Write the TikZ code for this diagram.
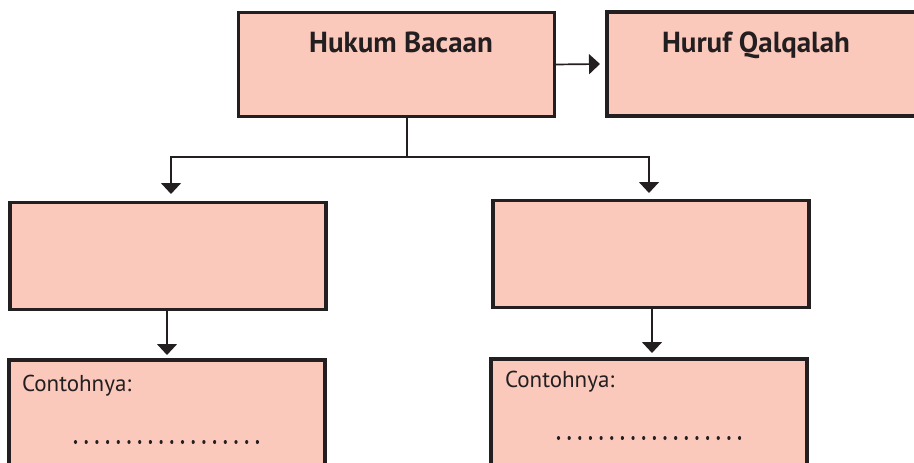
\documentclass[tikz,border=0pt]{standalone}
\usepackage{fontspec}
\setmainfont{PT Sans}
\usetikzlibrary{arrows.meta, positioning, calc}
\definecolor{boxpink}{RGB}{251,200,188}
\definecolor{inkdark}{RGB}{35,31,32}

\begin{document}
\begin{tikzpicture}[
    x=1pt, y=-1pt,
    every node/.style={inner sep=0pt, outer sep=0pt},
    pinkbox/.style={draw=inkdark, fill=boxpink, line width=3.6pt, minimum width=316pt, minimum height=104pt},
    titletext/.style={font=\fontsize{29}{33}\selectfont\bfseries, text=inkdark, anchor=base},
    bodytext/.style={font=\fontsize{23}{27}\selectfont, text=inkdark, anchor=base west},
    link/.style={draw=inkdark, line width=1.7pt, -{Triangle[length=11pt, width=20pt]}}
]
    \useasboundingbox (0,0) rectangle (914,463);

    % top row
    \node[pinkbox] (hukum) at (396.5,64.5) {};
    \node[titletext] (hukumtxt) at (401,52) {Hukum Bacaan};
    \node[pinkbox, minimum width=420pt, anchor=west] (qalqalah) at (606.7,64) {};
    \node[titletext] (qalqalahtxt) at (756,52) {Huruf Qalqalah};

    % middle row
    \node[pinkbox, minimum height=107pt] (midL) at (168,256) {};
    \node[pinkbox, minimum height=107pt] (midR) at (651,254) {};

    % bottom row (cut off by the page)
    \node[pinkbox, minimum height=160pt, anchor=north] (exL) at (167,359.7) {};
    \node[pinkbox, minimum height=160pt, anchor=north] (exR) at (649,358.7) {};
    \node[bodytext] (exLtxt) at (22,391.5) {Contohnya:};
    \node[bodytext] (exRtxt) at (505,387.5) {Contohnya:};
    \coordinate (dotsL) at (75.5,442);
    \coordinate (dotsR) at (558.5,438);
    \foreach \i in {0,...,17} {
        \fill[inkdark] ($(dotsL)+(\i*10.7,0)$) ellipse (1.6pt and 2pt);
        \fill[inkdark] ($(dotsR)+(\i*10.65,0)$) ellipse (1.6pt and 2pt);
    }

    % connectors
    \draw[link] (hukum.east) -- ([xshift=-6.7pt]qalqalah.west);
    \coordinate (stem) at ($(hukum.south)+(10.5,0)$);
    \coordinate (fork) at (407,157);
    \draw[inkdark, line width=1.7pt] (stem) -- (fork);
    \draw[link] (fork) -| ([xshift=3pt, yshift=8.5pt]midL.north);
    \draw[link] (fork) -| ([xshift=-2pt, yshift=7.5pt]midR.north);
    \draw[link] ([xshift=-1pt]midL.south) -- ([yshift=4.7pt]exL.north);
    \draw[link] ([xshift=1pt]midR.south) -- ([xshift=3pt, yshift=5.7pt]exR.north);
\end{tikzpicture}
\end{document}
